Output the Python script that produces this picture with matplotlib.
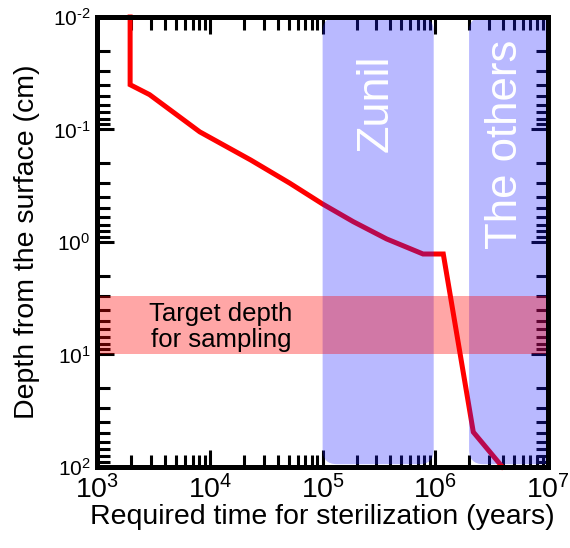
import numpy as np
import matplotlib
matplotlib.use("Agg")
import matplotlib.pyplot as plt
from matplotlib.patches import FancyBboxPatch
from matplotlib.ticker import LogLocator, FixedLocator, NullFormatter

plt.rcParams['font.family'] = ['Liberation Sans', 'DejaVu Sans']
plt.rcParams['mathtext.fontset'] = 'custom'
plt.rcParams['mathtext.rm'] = 'Liberation Sans'
plt.rcParams['mathtext.it'] = 'Liberation Sans:italic'
plt.rcParams['mathtext.default'] = 'regular'

# sterilization curve: time (years) vs depth (cm)
time_yr = [1.95e3, 1.95e3, 2.9e3, 8.1e3, 2.3e4, 5.1e4, 1.0e5, 1.87e5, 3.7e5, 7.8e5, 1.18e6, 2.18e6, 3.95e6]
depth_cm = [0.01, 0.040, 0.049, 0.105, 0.187, 0.30, 0.46, 0.66, 0.94, 1.28, 1.28, 49, 100]

# shaded regions
zunil_range = (1e5, 9.7e5)
others_range = (2e6, 1.2e7)
target_depth = (3.0, 10.0)

x_ticks = [1e3, 1e4, 1e5, 1e6, 1e7]
x_labels = ['$10^{3}$', '$10^{4}$', '$10^{5}$', '$10^{6}$', '$10^{7}$']
y_ticks = [1e-2, 1e-1, 1e0, 1e1, 1e2]
y_labels = ['$10^{\\text{-}2}$', '$10^{\\text{-}1}$', '$10^{0}$', '$10^{1}$', '$10^{2}$']

fig = plt.figure(figsize=(5.7, 5.48), dpi=100)
ax = fig.add_axes([0.171, 0.148, 0.79, 0.821])

ax.plot(time_yr, depth_cm, color='red', lw=3.6, zorder=2, solid_joinstyle='miter', clip_on=False)

ax.set_xscale('log')
ax.set_yscale('log')
ax.set_xlim(1e3, 1e7)
ax.set_ylim(1e2, 1e-2)


def xfrac(v):
    return (np.log10(v) - 3) / 4


# rounded blue bands (axes box is square, so axes coords keep corners round)
r = 0.032
for lo, hi in [zunil_range, others_range]:
    x0, x1 = xfrac(lo), xfrac(hi)
    p = FancyBboxPatch((x0 + r, r + 0.006), x1 - x0 - 2 * r, 1 - 2 * r - 0.006,
                       boxstyle='round,pad=%f,rounding_size=%f' % (r, r),
                       transform=ax.transAxes, facecolor='#2020ff', alpha=0.31,
                       edgecolor='none', zorder=2.2)
    ax.add_patch(p)

ax.axhspan(target_depth[0], target_depth[1], color='red', alpha=0.35, lw=0, zorder=2.3)

ax.text(3.0e5, 0.058, 'Zunil', rotation=90, color='white', fontsize=32.5,
        ha='center', va='center', zorder=3)
ax.text(4.2e6, 0.135, 'The others', rotation=90, color='white', fontsize=31.5,
        ha='center', va='center', zorder=3)
ax.text(1.25e4, 5.7, 'Target depth\nfor sampling', fontsize=18.5,
        ha='center', va='center', linespacing=1.1, zorder=3)

ax.xaxis.set_major_locator(FixedLocator(x_ticks))
ax.set_xticklabels(x_labels)
ax.yaxis.set_major_locator(FixedLocator(y_ticks))
ax.set_yticklabels(y_labels)
ax.xaxis.set_minor_locator(LogLocator(base=10, subs=np.arange(2, 10), numticks=20))
ax.yaxis.set_minor_locator(LogLocator(base=10, subs=np.arange(2, 10), numticks=20))
ax.xaxis.set_minor_formatter(NullFormatter())
ax.yaxis.set_minor_formatter(NullFormatter())

ax.tick_params(which='both', direction='in', top=True, right=True, width=2.2, color='black')
ax.tick_params(which='major', length=12.5)
ax.tick_params(which='minor', length=9)
ax.tick_params(axis='x', which='major', labelsize=20.5, pad=6)
ax.tick_params(axis='y', which='major', labelsize=15, pad=5)

for s in ax.spines.values():
    s.set_linewidth(3.6)

ax.set_xlabel('Required time for sterilization (years)', fontsize=20.5, labelpad=0)
ax.set_ylabel('Depth from the surface (cm)', fontsize=20.5, labelpad=9)

fig.savefig('out.png', dpi=100)
